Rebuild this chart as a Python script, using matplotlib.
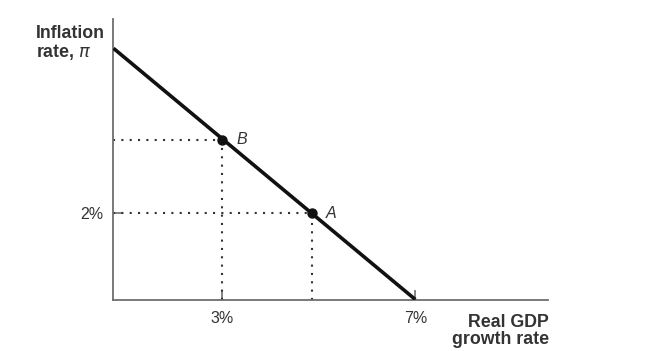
import matplotlib
matplotlib.use("Agg")
import matplotlib.pyplot as plt

# Data
line_x = [0.74, 7.0]          # real GDP growth rate, %
line_y = [6.50, -0.35]        # inflation rate, %
point_names = ["B", "A"]
point_x = [3.0, 4.85]
point_y = [4.0, 2.0]
xtick_vals = [3, 7]
xtick_labels = ["3%", "7%"]
ytick_vals = [2]
ytick_labels = ["2%"]

plt.rcParams['font.family'] = ['Liberation Sans', 'DejaVu Sans']

fig = plt.figure(figsize=(6.5, 3.51), dpi=100)
ax = fig.add_axes([0.1746, 0.1467, 0.843 - 0.1746, 0.9459 - 0.1467])
x0, x1 = 0.74, 9.75
y0, y1 = -0.35, 7.30
ax.set_xlim(x0, x1)
ax.set_ylim(y0, y1)

axis_col = "#6e6e6e"
for s in ["top", "right"]:
    ax.spines[s].set_visible(False)
for s in ["left", "bottom"]:
    ax.spines[s].set_color(axis_col)
    ax.spines[s].set_linewidth(1.3)

ax.set_xticks(xtick_vals)
ax.set_xticklabels(xtick_labels)
ax.set_yticks(ytick_vals)
ax.set_yticklabels(ytick_labels)
ax.tick_params(axis='both', direction='in', length=7, width=1.2, color=axis_col,
               labelsize=11.5, labelcolor="#333333")
ax.tick_params(axis='x', pad=8.5)
ax.tick_params(axis='y', pad=7.5)

dot_col = "#333333"
for px, py in zip(point_x, point_y):
    ax.plot([x0, px], [py, py], color=dot_col, lw=1.5, ls=(0, (1, 3)), zorder=2)
    ax.plot([px, px], [y0, py], color=dot_col, lw=1.5, ls=(0, (1, 3)), zorder=2)

ax.plot(line_x, line_y, color="#111111", lw=2.6, zorder=3, solid_capstyle='butt')
ax.scatter(point_x, point_y, s=42, color="#111111", zorder=4)
for name, px, py in zip(point_names, point_x, point_y):
    ax.annotate(name, (px, py), xytext=(10, 0), textcoords='offset points',
                ha='left', va='center', fontsize=11.5, style='italic', color="#333333")

fig.text(36 / 650, 1 - 25 / 351, "Inflation\nrate, $\\pi$", ha='left', va='top',
         fontsize=12.8, fontweight='bold', color="#333333", linespacing=1.0)
fig.text(549 / 650, 1 - 314 / 351, "Real GDP\ngrowth rate", ha='right', va='top',
         fontsize=12.8, fontweight='bold', color="#333333", linespacing=1.0)

fig.savefig("out.png", dpi=100)
